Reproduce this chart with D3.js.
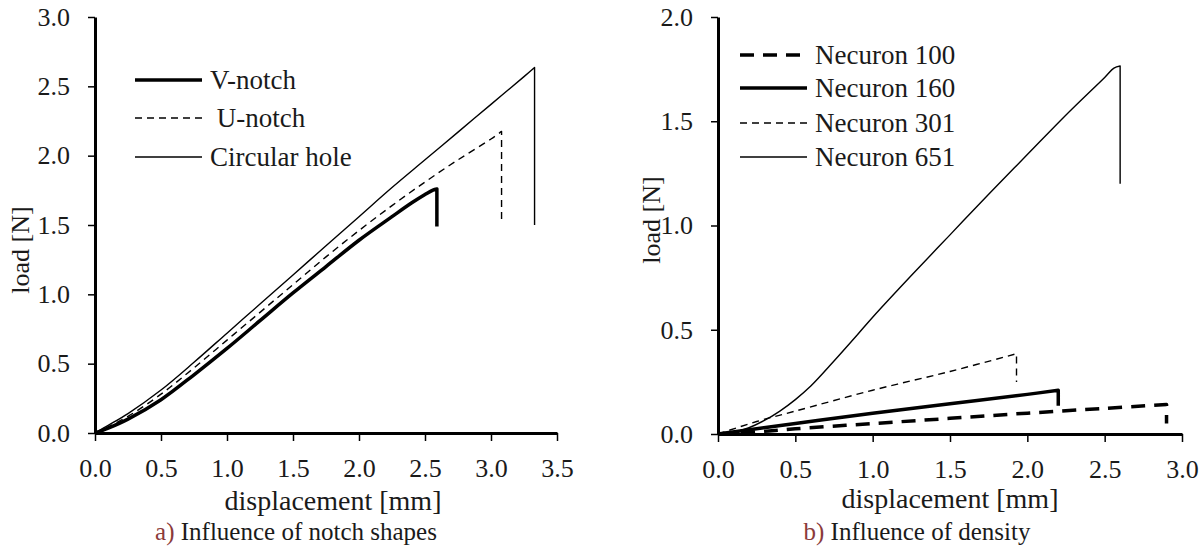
<!DOCTYPE html>
<html>
<head>
<meta charset="utf-8">
<script src="https://cdn.jsdelivr.net/npm/d3@7"></script>
<style>
  body { margin: 0; background: #fff; }
</style>
</head>
<body>
<svg id="chart" width="1204" height="548" font-family="'Liberation Serif', 'Times New Roman', 'DejaVu Serif', serif"></svg>
<script>
// ---- data ----
// a) notch shapes
const vNotchX = [0, 0.1, 0.25, 0.5, 0.75, 1.0, 1.25, 1.5, 1.75, 2.0, 2.25, 2.4, 2.5, 2.56, 2.59];
const vNotchY = [0, 0.035, 0.1, 0.24, 0.42, 0.61, 0.81, 1.01, 1.20, 1.39, 1.56, 1.66, 1.72, 1.752, 1.76];
const vNotchDrop = 1.49;

const uNotchX = [0, 0.1, 0.25, 0.5, 0.75, 1.0, 1.25, 1.5, 1.75, 2.0, 2.25, 2.5, 2.75, 3.0, 3.08];
const uNotchY = [0, 0.045, 0.12, 0.28, 0.47, 0.67, 0.87, 1.07, 1.27, 1.46, 1.64, 1.81, 1.97, 2.12, 2.175];
const uNotchDrop = 1.52;

const holeX = [0, 0.1, 0.25, 0.5, 0.75, 1.0, 1.25, 1.5, 1.75, 2.0, 2.25, 2.5, 2.75, 3.0, 3.25, 3.33];
const holeY = [0, 0.055, 0.14, 0.31, 0.51, 0.72, 0.93, 1.14, 1.35, 1.56, 1.77, 1.97, 2.17, 2.37, 2.57, 2.636];
const holeDrop = 1.50;

// b) density
const n100X = [0, 0.25, 0.5, 1.0, 1.5, 2.0, 2.5, 2.9];
const n100Y = [0, 0.01, 0.025, 0.05, 0.075, 0.10, 0.123, 0.142];
const n100Drop = 0.05;

const n160X = [0, 0.5, 1.0, 1.5, 2.0, 2.2];
const n160Y = [0, 0.05, 0.10, 0.145, 0.19, 0.21];
const n160Drop = 0.135;

const n301X = [0, 0.25, 0.5, 1.0, 1.5, 1.93];
const n301Y = [0, 0.06, 0.11, 0.21, 0.30, 0.385];
const n301Drop = 0.25;

const n651X = [0, 0.1, 0.2, 0.3, 0.4, 0.5, 0.6, 0.75, 0.9, 1.0, 1.25, 1.5, 1.75, 2.0, 2.25, 2.5, 2.56, 2.6];
const n651Y = [0, 0.008, 0.03, 0.065, 0.11, 0.165, 0.23, 0.35, 0.475, 0.56, 0.76, 0.955, 1.15, 1.34, 1.53, 1.71, 1.755, 1.765];
const n651Drop = 1.20;

const ticksA_x = [0, 0.5, 1.0, 1.5, 2.0, 2.5, 3.0, 3.5];
const ticksA_y = [0, 0.5, 1.0, 1.5, 2.0, 2.5, 3.0];
const ticksB_x = [0, 0.5, 1.0, 1.5, 2.0, 2.5, 3.0];
const ticksB_y = [0, 0.5, 1.0, 1.5, 2.0];

const legendA = ["V-notch", " U-notch", "Circular hole"];
const legendB = ["Necuron 100", "Necuron 160", "Necuron 301", "Necuron 651"];

// ---- drawing ----
var svg = d3.select("#chart");
var fmt = d3.format(".1f");
var FONT = "'Liberation Serif', 'Times New Roman', 'DejaVu Serif', serif";

var styles = {
  thick: { w: 3.5, dash: null },
  thin: { w: 1.4, dash: null },
  thinDash: { w: 1.4, dash: "7,5" },
  thickDash: { w: 3.5, dash: "14,9" }
};

function addText(g, size) {
  return g.append("text").attr("font-family", FONT).attr("font-size", size).attr("fill", "#1a1a1a");
}

function panel(opt) {
  var x = d3.scaleLinear().domain(opt.xDomain).range(opt.xRange);
  var y = d3.scaleLinear().domain(opt.yDomain).range(opt.yRange);
  var g = svg.append("g");

  var xAxis = d3.axisBottom(x).tickValues(opt.xTicks).tickFormat(fmt)
    .tickSize(8).tickSizeOuter(0).tickPadding(18);
  var yAxis = d3.axisLeft(y).tickValues(opt.yTicks).tickFormat(fmt)
    .tickSize(7).tickSizeOuter(0).tickPadding(18);

  var gx = g.append("g").attr("transform", "translate(0," + opt.yRange[0] + ")").call(xAxis);
  var gy = g.append("g").attr("transform", "translate(" + opt.xRange[0] + ",0)").call(yAxis);
  [gx, gy].forEach(function(a) {
    a.attr("font-family", FONT).attr("font-size", 26);
    a.select(".domain").attr("stroke", "#000").attr("stroke-width", 3);
    a.selectAll(".tick line").attr("stroke", "#000").attr("stroke-width", 1.5);
    a.selectAll(".tick text").attr("fill", "#1a1a1a");
  });

  var line = d3.line()
    .x(function(d) { return x(d[0]); })
    .y(function(d) { return y(d[1]); })
    .curve(d3.curveCatmullRom.alpha(0.5));

  opt.series.forEach(function(s) {
    var pts = s.xs.map(function(v, i) { return [v, s.ys[i]]; });
    var last = pts[pts.length - 1];
    var st = styles[s.style];
    var d = line(pts) + "L" + x(last[0]) + "," + y(s.drop);
    g.append("path")
      .attr("d", d)
      .attr("fill", "none")
      .attr("stroke", "#000")
      .attr("stroke-width", st.w)
      .attr("stroke-linejoin", "round")
      .attr("stroke-dasharray", st.dash);
  });

  // legend
  opt.legend.forEach(function(name, i) {
    var st = styles[opt.series[i].style];
    var ly = opt.legendY[i];
    g.append("line")
      .attr("x1", opt.legendX[0]).attr("x2", opt.legendX[1])
      .attr("y1", ly).attr("y2", ly)
      .attr("stroke", "#000")
      .attr("stroke-width", st.w)
      .attr("stroke-dasharray", st.dash);
    addText(g, 27)
      .attr("x", opt.legendX[1] + 8)
      .attr("y", ly)
      .attr("dy", "0.33em")
      .attr("xml:space", "preserve")
      .text(name);
  });

  // axis titles
  addText(g, 28)
    .attr("x", opt.xTitle[0]).attr("y", opt.xTitle[1])
    .attr("text-anchor", "middle")
    .text("displacement [mm]");
  addText(g, 26)
    .attr("transform", "translate(" + opt.yTitle[0] + "," + opt.yTitle[1] + ") rotate(-90)")
    .attr("text-anchor", "middle")
    .attr("dy", "0.33em")
    .text("load [N]");

  // caption
  var cap = addText(g, 25)
    .attr("x", opt.caption[0]).attr("y", opt.caption[1])
    .attr("text-anchor", "middle");
  cap.append("tspan").attr("fill", "#8b3a3a").text(opt.captionTag);
  cap.append("tspan").text(" " + opt.captionText);
}

panel({
  xDomain: [0, 3.5], xRange: [95, 557],
  yDomain: [0, 3], yRange: [433, 17],
  xTicks: ticksA_x, yTicks: ticksA_y,
  series: [
    { xs: vNotchX, ys: vNotchY, drop: vNotchDrop, style: "thick" },
    { xs: uNotchX, ys: uNotchY, drop: uNotchDrop, style: "thinDash" },
    { xs: holeX, ys: holeY, drop: holeDrop, style: "thin" }
  ],
  legend: legendA,
  legendX: [135, 202], legendY: [80, 118, 157],
  xTitle: [333, 510], yTitle: [20, 250],
  caption: [296, 540], captionTag: "a)", captionText: "Influence of notch shapes"
});

panel({
  xDomain: [0, 3], xRange: [718, 1182],
  yDomain: [0, 2], yRange: [434, 17],
  xTicks: ticksB_x, yTicks: ticksB_y,
  series: [
    { xs: n100X, ys: n100Y, drop: n100Drop, style: "thickDash" },
    { xs: n160X, ys: n160Y, drop: n160Drop, style: "thick" },
    { xs: n301X, ys: n301Y, drop: n301Drop, style: "thinDash" },
    { xs: n651X, ys: n651Y, drop: n651Drop, style: "thin" }
  ],
  legend: legendB,
  legendX: [740, 807], legendY: [55, 88, 123, 157],
  xTitle: [950, 508], yTitle: [651, 220],
  caption: [917, 540], captionTag: "b)", captionText: "Influence of density"
});
</script>
</body>
</html>
